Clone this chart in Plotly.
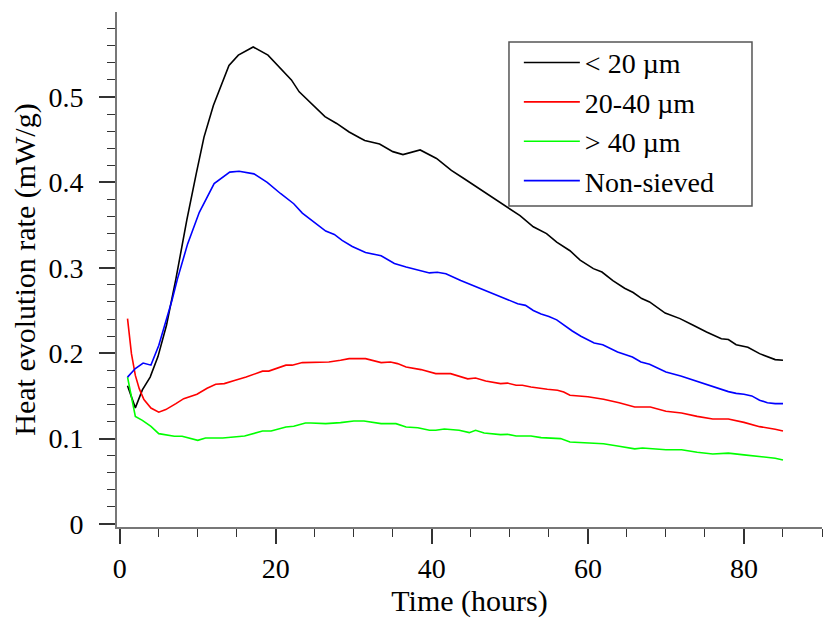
import plotly.graph_objects as go

# ---- data ----
t_black = [1, 2, 2.9, 3.9, 4.9, 6, 7.2, 8.6, 9.8, 10.8, 12, 14, 15.2, 17.1, 19, 20.5, 22, 23, 24.8,
           26.3, 27.8, 29.4, 30.8, 31.4, 33.3, 35, 36.3, 38.5, 40.6, 42.5, 44.2, 45.7, 47.4, 49.6,
           51.3, 53, 54.7, 56, 57.7, 59, 60.7, 61.8, 63.2, 64.7, 65.8, 66.9, 67.9, 69.9, 71.8, 73.5,
           75.2, 77.1, 78, 79, 80.5, 82, 84, 85]
v_black = [0.162, 0.136, 0.157, 0.172, 0.196, 0.233, 0.287, 0.356, 0.410, 0.453, 0.490, 0.537,
           0.549, 0.5586, 0.549, 0.535, 0.520, 0.506, 0.490, 0.477, 0.469, 0.459, 0.452, 0.449,
           0.445, 0.436, 0.4325, 0.438, 0.428, 0.414, 0.404, 0.395, 0.385, 0.371, 0.361, 0.348,
           0.340, 0.330, 0.320, 0.309, 0.299, 0.295, 0.285, 0.276, 0.271, 0.264, 0.260, 0.247,
           0.2405, 0.2327, 0.2248, 0.217, 0.216, 0.210, 0.207, 0.1995, 0.1925, 0.1917]

t_red = [1, 1.5, 2, 2.5, 3.1, 4, 5, 5.9, 7.2, 8.2, 9.9, 11.2, 12.3, 13.4, 14.7, 16.2, 18.3, 19.1,
         21.3, 22.1, 23.4, 25.2, 26.8, 28.3, 29.4, 31.5, 33.5, 34.7, 35.6, 36.7, 37.7, 38.6, 40.5,
         42.4, 44.6, 45.6, 46.9, 48.8, 49.7, 50.8, 51.6, 52.7, 54.8, 56.1, 56.9, 57.7, 60, 62, 64,
         66, 68, 70, 72, 74, 76, 78, 80, 82, 84, 85]
v_red = [0.2405, 0.1995, 0.174, 0.1585, 0.1457, 0.1358, 0.131, 0.134, 0.141, 0.1468, 0.1519,
         0.159, 0.1636, 0.1644, 0.168, 0.172, 0.179, 0.179, 0.186, 0.186, 0.189, 0.1897, 0.1897,
         0.1917, 0.1936, 0.1936, 0.189, 0.1897, 0.1878, 0.1838, 0.182, 0.1808, 0.1761, 0.1761,
         0.170, 0.171, 0.1675, 0.1644, 0.165, 0.1624, 0.1624, 0.1604, 0.1577, 0.1566, 0.1546,
         0.1507, 0.149, 0.146, 0.142, 0.137, 0.137, 0.132, 0.130, 0.126, 0.123, 0.123, 0.119,
         0.114, 0.111, 0.109]

t_green = [1, 2, 2.9, 4, 5, 7, 8, 10, 11, 13.2, 16, 18.3, 19.4, 21.3, 22.3, 23.8, 24.5, 26.4,
           28.3, 30, 31.3, 33.5, 35.4, 36.7, 38.2, 39.7, 40.5, 41.6, 43.5, 44.8, 45.6, 46.7, 48.8,
           49.7, 50.8, 52.7, 54, 56.5, 57.7, 60, 62, 64, 66, 67, 70, 72, 74, 76, 78, 80, 82, 84, 85]
v_green = [0.172, 0.126, 0.1214, 0.1144, 0.1058, 0.1027, 0.1027, 0.098, 0.1007, 0.1007, 0.103,
           0.1089, 0.1089, 0.1136, 0.1144, 0.1183, 0.1183, 0.1175, 0.1187, 0.1206, 0.1206,
           0.1175, 0.1175, 0.1136, 0.1128, 0.1097, 0.1097, 0.1112, 0.1097, 0.107, 0.1097, 0.1065,
           0.1047, 0.105, 0.103, 0.103, 0.1012, 0.100, 0.096, 0.095, 0.094, 0.091, 0.088, 0.089,
           0.087, 0.087, 0.084, 0.082, 0.083, 0.081, 0.079, 0.077, 0.075]

t_blue = [1, 2, 3, 4, 5, 6, 6.7, 7.4, 8.7, 10.2, 12.1, 14.1, 15.3, 17.2, 18.9, 20.6, 22.3, 23.4,
          24.9, 26.4, 27.5, 28.5, 29.8, 31.5, 33.5, 35.2, 36.7, 38.6, 39.7, 40.7, 41.8, 43.7, 46.7,
          49.5, 51, 52, 53, 54, 55, 56, 57, 58, 59.1, 60.8, 61.9, 63.8, 65.7, 66.8, 67.9, 70, 71.9,
          73.6, 75, 76, 77, 78, 79, 80, 81, 82, 83, 84, 85]
v_blue = [0.172, 0.182, 0.1885, 0.186, 0.209, 0.2385, 0.262, 0.287, 0.328, 0.365, 0.3986, 0.412,
          0.413, 0.410, 0.400, 0.387, 0.375, 0.364, 0.3536, 0.343, 0.339, 0.332, 0.325, 0.318,
          0.314, 0.305, 0.301, 0.297, 0.294, 0.2947, 0.293, 0.285, 0.2736, 0.263, 0.258, 0.256,
          0.250, 0.246, 0.243, 0.239, 0.232, 0.226, 0.2198, 0.212, 0.210, 0.2014, 0.1956, 0.1897,
          0.187, 0.178, 0.1733, 0.168, 0.164, 0.161, 0.158, 0.155, 0.153, 0.152, 0.150, 0.145,
          0.142, 0.141, 0.141]

series = [
    ("< 20 µm", t_black, v_black, "#000000"),
    ("20-40 µm", t_red, v_red, "#ff0000"),
    ("> 40 µm", t_green, v_green, "#00ff00"),
    ("Non-sieved", t_blue, v_blue, "#0000ff"),
]

x_title = "Time (hours)"
y_title = "Heat evolution rate (mW/g)"

FONT = "Liberation Serif, Times New Roman, serif"
TICK_SIZE = 28
TITLE_SIZE = 30
LEG_SIZE = 28

fig = go.Figure()
for name, t, v, c in series:
    fig.add_trace(go.Scatter(x=t, y=v, mode="lines", name=name,
                             line=dict(color=c, width=1.6)))

# legend frame (drawn as a paper-referenced rectangle, legend itself borderless)
fig.add_shape(type="rect", xref="paper", yref="paper",
              x0=0.556, x1=0.9007, y0=0.6233, y1=0.9417,
              line=dict(color="#555555", width=1.5), fillcolor="white", layer="above")

fig.update_layout(
    width=833, height=622,
    margin=dict(l=117, r=11, t=12, b=95),
    paper_bgcolor="white", plot_bgcolor="white",
    font=dict(family=FONT, size=TICK_SIZE, color="black"),
    showlegend=True,
    legend=dict(x=0.570, y=0.950, xanchor="left", yanchor="top",
                borderwidth=0, bgcolor="rgba(0,0,0,0)",
                font=dict(family=FONT, size=LEG_SIZE, color="black"),
                itemwidth=56, tracegroupgap=0),
)

fig.update_xaxes(
    range=[-0.35, 90], showgrid=False, zeroline=False,
    showline=True, linecolor="#777777", linewidth=2,
    ticks="outside", ticklen=15, tickwidth=1.5, tickcolor="#333333",
    tickvals=[0, 20, 40, 60, 80],
    minor=dict(ticks="outside", ticklen=8, tickwidth=1.3, tickcolor="#333333", dtick=5, tick0=0),
    tickfont=dict(family=FONT, size=TICK_SIZE, color="black"),
    title=dict(text=x_title, font=dict(family=FONT, size=TITLE_SIZE, color="black"), standoff=0),
)
fig.update_yaxes(
    range=[-0.0035, 0.5995], showgrid=False, zeroline=False,
    showline=True, linecolor="#777777", linewidth=2,
    ticks="outside", ticklen=16, tickwidth=1.5, tickcolor="#333333",
    tickvals=[0, 0.1, 0.2, 0.3, 0.4, 0.5],
    ticktext=["0", "0.1", "0.2", "0.3", "0.4", "0.5"],
    minor=dict(ticks="outside", ticklen=8, tickwidth=1.3, tickcolor="#333333", dtick=0.02, tick0=0),
    tickfont=dict(family=FONT, size=TICK_SIZE, color="black"),
    ticklabelstandoff=10,
    title=dict(text=y_title, font=dict(family=FONT, size=TITLE_SIZE, color="black"), standoff=4),
)

fig.write_html("out.html")
